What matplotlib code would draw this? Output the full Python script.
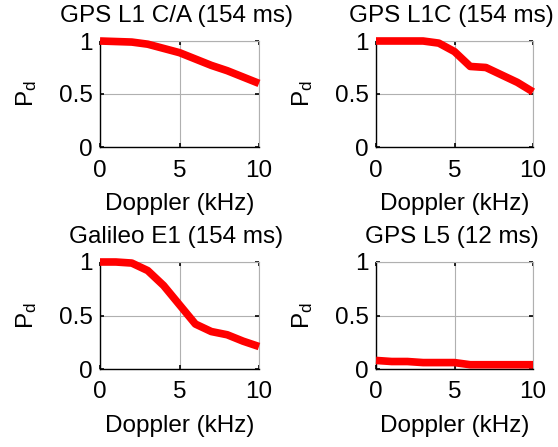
import matplotlib
matplotlib.use("Agg")
import matplotlib.pyplot as plt

plt.rcParams["font.family"] = ["Liberation Sans", "DejaVu Sans"]
plt.rcParams["mathtext.fontset"] = "custom"
plt.rcParams["mathtext.rm"] = "Liberation Sans"
plt.rcParams["mathtext.it"] = "Liberation Sans"

doppler = [0, 1, 2, 3, 4, 5, 6, 7, 8, 9, 10]
pd_l1ca = [1.0, 0.995, 0.99, 0.97, 0.93, 0.89, 0.83, 0.77, 0.72, 0.66, 0.60]
pd_l1c = [1.0, 1.0, 1.0, 1.0, 0.98, 0.90, 0.76, 0.75, 0.68, 0.61, 0.52]
pd_e1 = [1.0, 1.0, 0.99, 0.92, 0.78, 0.60, 0.42, 0.35, 0.32, 0.26, 0.21]
pd_l5 = [0.08, 0.07, 0.07, 0.06, 0.06, 0.06, 0.04, 0.04, 0.04, 0.04, 0.04]

titles = ["GPS L1 C/A (154 ms)", "GPS L1C (154 ms)", "Galileo E1 (154 ms)", "GPS L5 (12 ms)"]
series = [pd_l1ca, pd_l1c, pd_e1, pd_l5]

fs = 17.5
fig = plt.figure(figsize=(5.58, 4.47), dpi=100)
W, H = 558, 447
# axes boxes in pixels: left, top, right, bottom
boxes = [(100, 41, 259, 147), (376, 41, 533, 147), (100, 262, 259, 369), (376, 262, 533, 369)]

for (l, t, r, b), title, vals in zip(boxes, titles, series):
    ax = fig.add_axes([l / W, 1 - b / H, (r - l) / W, (b - t) / H])
    ax.plot(doppler, vals, color="red", linewidth=5.5, solid_capstyle="butt", clip_on=False, zorder=3)
    ax.set_xlim(0, 10)
    ax.set_ylim(0, 1)
    ax.set_xticks([0, 5, 10])
    ax.set_yticks([0, 0.5, 1])
    ax.set_yticklabels(["0", "0.5", "1"])
    ax.grid(True, color="#b0b0b0", linewidth=0.8)
    ax.tick_params(direction="in", length=3, width=1.2, labelsize=fs, top=True, right=True)
    ax.tick_params(axis="x", pad=9)
    ax.tick_params(axis="y", pad=5)
    for side in ["top", "right"]:
        ax.spines[side].set_color("#b0b0b0")
        ax.spines[side].set_linewidth(0.8)
    for side in ["left", "bottom"]:
        ax.spines[side].set_linewidth(1.0)
    ax.set_title(title, fontsize=fs, pad=14, x=0.5 - 3 / (r - l))
    ax.set_xlabel("Doppler (kHz)", fontsize=fs, labelpad=8)
    ax.set_ylabel(r"$\mathrm{P_d}$", fontsize=17.5)
    ax.yaxis.set_label_coords(-61 / (r - l), 0.5)

fig.savefig("out.png", dpi=100)
